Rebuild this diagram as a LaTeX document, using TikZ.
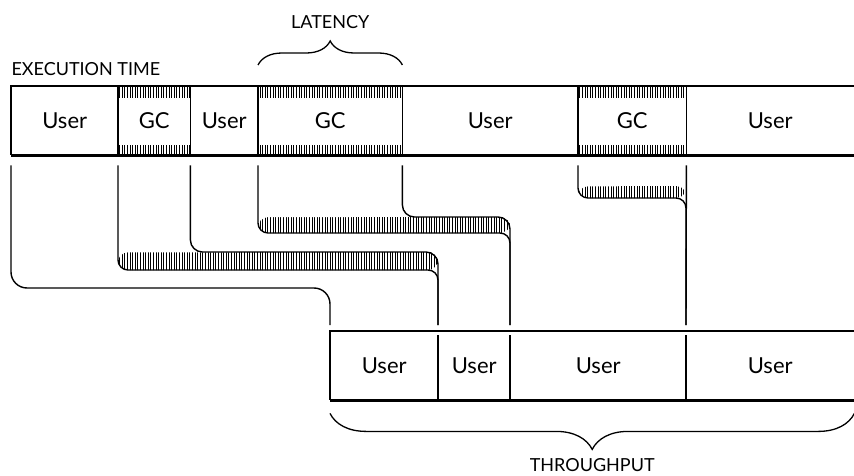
\documentclass[tikz,border=0pt]{standalone}
\usepackage{fontspec}
\setmainfont{Lato}
\usetikzlibrary{patterns,decorations.pathreplacing}

\pgfdeclarepatternformonly{ticks}{\pgfqpoint{-1pt}{-1pt}}{\pgfqpoint{1pt}{4pt}}{\pgfqpoint{2.6pt}{3pt}}{%
  \pgfsetlinewidth{0.75pt}%
  \pgfpathmoveto{\pgfqpoint{0pt}{-0.5pt}}%
  \pgfpathlineto{\pgfqpoint{0pt}{3.5pt}}%
  \pgfusepath{stroke}}

\tikzset{
  cell/.style={anchor=north west, minimum height=69pt, inner sep=0pt,
    font=\fontsize{22}{24}\selectfont},
  caption/.style={font=\fontsize{18}{20}\selectfont},
  frame/.style={line width=1.6pt},
  floor/.style={line width=3.6pt},
  flow/.style={line width=1.4pt, rounded corners=12pt},
  hatch/.style={pattern=ticks},
  brace/.style={decorate, decoration={brace, amplitude=#1}, line width=1.3pt},
}

\begin{document}
\begin{tikzpicture}[x=1pt, y=-1pt]
  \useasboundingbox (0,0) rectangle (854,476);

  % Execution time
  \node[caption, anchor=west] (exec) at (8,69) {EXECUTION TIME};
  \node[cell, minimum width=107pt] (u1) at (11,86) {User};
  \node[cell, minimum width=72pt] (gc1) at (118,86) {GC};
  \node[cell, minimum width=68pt] (u2) at (190,86) {User};
  \node[cell, minimum width=144pt] (gc2) at (258,86) {GC};
  \node[cell, minimum width=176pt] (u3) at (402,86) {User};
  \node[cell, minimum width=108pt] (gc3) at (578,86) {GC};
  \node[cell, minimum width=168pt] (u4) at (686,86) {User};

  % Throughput
  \node[cell, minimum width=108pt] (b1) at (330,331) {User};
  \node[cell, minimum width=72pt] (b2) at (438,331) {User};
  \node[cell, minimum width=176pt] (b3) at (510,331) {User};
  \node[cell, minimum width=168pt] (b4) at (686,331) {User};

  % GC hatching
  \foreach \c in {gc1,gc2,gc3} {
    \fill[hatch] (\c.north west) rectangle ([yshift=-12pt]\c.north east);
    \fill[hatch] (\c.south west) rectangle ([yshift=10pt]\c.south east);
    \draw[frame] (\c.north west) -- (\c.south west) (\c.north east) -- (\c.south east);
  }

  % Bars
  \draw[frame] (u4.north east) -- (u1.north west) -- (u1.south west);
  \draw[floor] (u1.south west) -- (u4.south east);
  \draw[frame] (b4.north east) -- (b1.north west) -- (b1.south west);
  \draw[floor] (b1.south west) -- (b4.south east);
  \foreach \c in {b2,b3,b4}
    \draw[frame] ([yshift=-4pt]\c.north west) -- (\c.south west);

  % Pause bands
  \fill[hatch, rounded corners=10pt] ([yshift=-97pt]gc1.south west)
    |- ([yshift=61pt]b2.north west) -- ([yshift=79pt]b2.north west) -- cycle;
  \fill[hatch, rounded corners=10pt] ([yshift=-62pt]gc2.south west)
    |- ([yshift=98pt]b3.north west) -- ([yshift=114pt]b3.north west) -- cycle;
  \fill[hatch, rounded corners=10pt] ([yshift=-31pt]gc3.south west)
    |- ([yshift=133pt]b4.north west) -- ([yshift=145pt]b4.north west) -- cycle;

  % Connectors
  \draw[flow, rounded corners=16pt] ([yshift=-10pt]u1.south west)
    |- ([yshift=43pt]b1.north west) -- ([yshift=6pt]b1.north west);
  \draw[flow, rounded corners=10pt] ([yshift=-10pt]gc1.south west)
    |- ([yshift=61pt]b2.north west) -- ([yshift=6pt]b2.north west);
  \draw[flow] ([yshift=-10pt]gc1.south east)
    |- ([yshift=79pt]b2.north west) -- ([yshift=6pt]b2.north west);
  \draw[flow, rounded corners=10pt] ([yshift=-10pt]gc2.south west)
    |- ([yshift=98pt]b3.north west) -- ([yshift=6pt]b3.north west);
  \draw[flow] ([yshift=-10pt]gc2.south east)
    |- ([yshift=114pt]b3.north west) -- ([yshift=6pt]b3.north west);
  \draw[flow, rounded corners=10pt] ([yshift=-10pt]gc3.south west)
    |- ([yshift=133pt]b4.north west) -- ([yshift=6pt]b4.north west);
  \draw[flow] ([yshift=-10pt]gc3.south east) -- ([yshift=6pt]b4.north west);

  % Braces
  \draw[brace=24pt] ([yshift=21pt]gc2.north west) -- ([yshift=21pt]gc2.north east)
    node[caption, midway, yshift=43pt] (lat) {LATENCY};
  \draw[brace=36pt] ([yshift=-13pt]b4.south east) -- ([yshift=-13pt]b1.south west)
    node[caption, midway, yshift=-52pt] (thr) {THROUGHPUT};
\end{tikzpicture}
\end{document}
